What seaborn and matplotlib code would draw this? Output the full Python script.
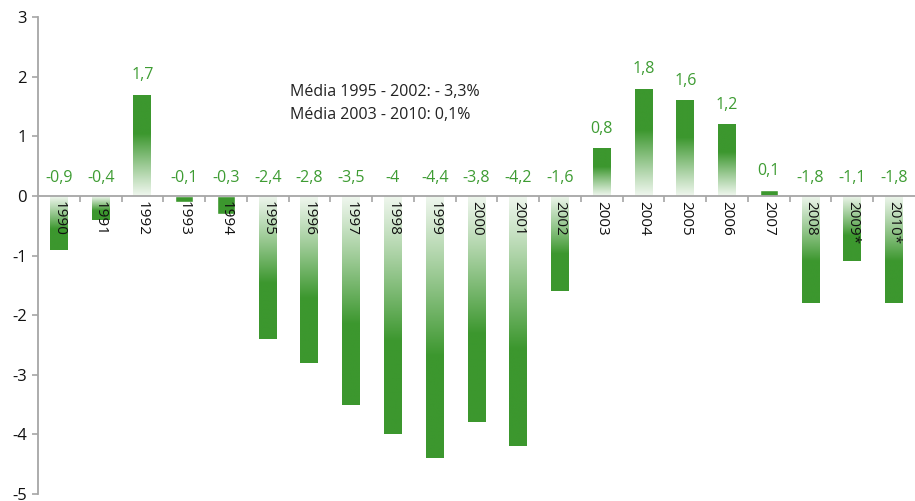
import numpy as np
import pandas as pd
import matplotlib
matplotlib.use("Agg")
import matplotlib.pyplot as plt
import seaborn as sns

years = ["1990", "1991", "1992", "1993", "1994", "1995", "1996", "1997", "1998", "1999",
         "2000", "2001", "2002", "2003", "2004", "2005", "2006", "2007", "2008", "2009*", "2010*"]
values = [-0.9, -0.4, 1.7, -0.1, -0.3, -2.4, -2.8, -3.5, -4.0, -4.4,
          -3.8, -4.2, -1.6, 0.8, 1.8, 1.6, 1.2, 0.1, -1.8, -1.1, -1.8]
note_lines = ["Média 1995 - 2002: - 3,3%", "Média 2003 - 2010: 0,1%"]
y_ticks = [-5, -4, -3, -2, -1, 0, 1, 2, 3]

GREEN = "#3c972e"
LABEL_GREEN = "#3e9c33"
GRAY = "#a6a6a6"

sns.set_theme(style="white")
plt.rcParams["font.family"] = ["Open Sans", "DejaVu Sans"]

df = pd.DataFrame({"year": years, "value": values})

fig = plt.figure(figsize=(9.15, 5.01), dpi=100)
ax = fig.add_axes([38 / 915, 7 / 501, 877 / 915, 477 / 501])

sns.barplot(data=df, x="year", y="value", color=GREEN, width=0.43, saturation=1,
            ax=ax, zorder=2)

ax.set_xlim(-0.5, len(years) - 0.5)
ax.set_ylim(-5, 3)

# gradient fill clipped to each bar
green_rgb = np.array(matplotlib.colors.to_rgb(GREEN))
for patch, v in zip(ax.patches, values):
    x0 = patch.get_x()
    w = patch.get_width()
    if abs(v) < 0.35:
        continue
    n = 256
    t = np.linspace(0, 1, n)  # 0 at zero line, 1 at bar tip
    a = np.clip(0.1 + t / 0.68, 0, 1) ** 1.1
    rgb = (1 - a)[:, None] * np.ones(3) + a[:, None] * green_rgb
    img = rgb[:, None, :]
    if v > 0:
        extent = [x0, x0 + w, 0, v]
        origin = "lower"
    else:
        extent = [x0, x0 + w, v, 0]
        origin = "upper"
    im = ax.imshow(img, extent=extent, origin=origin, aspect="auto",
                   interpolation="bilinear", zorder=2.2)
    im.set_clip_path(patch)
    patch.set_facecolor("none")

# value labels
for i, v in enumerate(values):
    y = v + 0.32 if v > 0 else 0.3
    txt = f"{v:g}".replace(".", ",")
    ax.text(i, y, txt, ha="center", va="center", fontsize=11.5, color=LABEL_GREEN, zorder=4)

# note text
ax.text(0.287, 0.843, note_lines[0], transform=ax.transAxes, fontsize=11.5,
        color="#222222", ha="left", va="center")
ax.text(0.287, 0.795, note_lines[1], transform=ax.transAxes, fontsize=11.5,
        color="#222222", ha="left", va="center")

# axes styling
for s in ["top", "right"]:
    ax.spines[s].set_visible(False)
ax.spines["left"].set_color(GRAY)
ax.spines["left"].set_linewidth(1.3)
ax.spines["bottom"].set_position(("data", 0))
ax.spines["bottom"].set_color(GRAY)
ax.spines["bottom"].set_linewidth(1.3)
ax.spines["bottom"].set_zorder(3)

ax.set_yticks(y_ticks)
ax.set_yticklabels([str(t) for t in y_ticks], fontsize=12, color="#111111")
ax.tick_params(axis="y", direction="out", length=4, width=1.2, color=GRAY, pad=4, left=True)

ax.set_xticks(range(len(years)))
ax.set_xticklabels(years, rotation=270, fontsize=11, color="#111111", va="top", ha="center")
ax.tick_params(axis="x", which="major", length=0, pad=4, bottom=True)
ax.set_xticks(np.arange(0.5, len(years) - 0.5, 1.0), minor=True)
ax.tick_params(axis="x", which="minor", direction="out", length=4, width=1.2, color=GRAY, bottom=True)
ax.xaxis.set_zorder(5)
ax.yaxis.set_zorder(5)

ax.set_xlabel("")
ax.set_ylabel("")
ax.grid(False)

fig.savefig("out.png", dpi=100)
